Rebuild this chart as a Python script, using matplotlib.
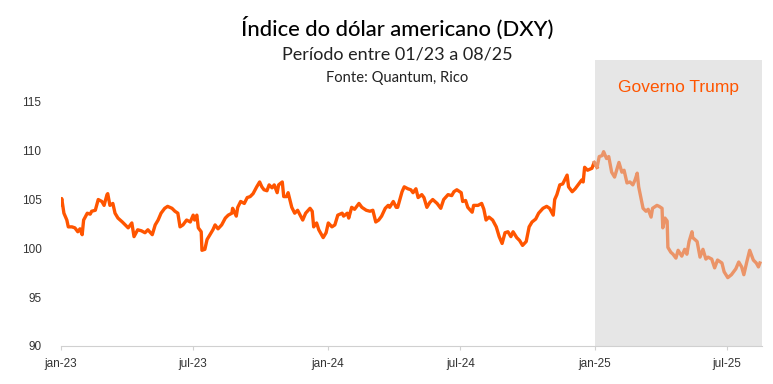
import numpy as np
import pandas as pd
import matplotlib
matplotlib.use("Agg")
import matplotlib.pyplot as plt

# DXY readings, days counted from 2023-01-01
days = [0, 1, 4, 8, 10, 15, 19, 23, 26, 29, 31, 36, 40, 42, 47, 51, 56, 59, 63, 64,
        67, 71, 74, 78, 84, 88, 92, 97, 100, 105, 110, 115, 119, 125, 129, 133, 137, 142, 146, 152,
        156, 160, 163, 167, 172, 177, 181, 183, 186, 188, 192, 193, 197, 200, 204, 208, 211, 215, 220, 225,
        229, 234, 235, 240, 242, 246, 251, 255, 259, 263, 268, 272, 275, 278, 282, 285, 289, 292, 296, 298,
        303, 305, 309, 311, 316, 320, 324, 331, 335, 341, 344, 346, 350, 353, 359, 363, 366, 371, 375, 379,
        385, 387, 392, 394, 398, 402, 408, 412, 418, 423, 427, 431, 435, 439, 444, 448, 450, 455, 459, 461,
        467, 470, 475, 479, 482, 486, 489, 494, 497, 501, 505, 509, 515, 520, 524, 530, 535, 538, 542, 548,
        550, 554, 557, 563, 565, 571, 576, 579, 582, 586, 591, 596, 600, 604, 608, 612, 616, 619, 624, 628,
        632, 637, 641, 645, 650, 654, 660, 665, 669, 674, 676, 679, 683, 687, 693, 695, 700, 704, 706, 713,
        715, 717, 721, 727, 730, 734, 737, 741, 743, 747, 750, 754, 758, 764, 768, 771, 775, 779, 783, 786,
        789, 791, 797, 801, 804, 808, 810, 816, 819, 823, 824, 827, 830, 831, 835, 838, 842, 845, 850, 854,
        857, 860, 864, 865, 871, 875, 879, 883, 886, 891, 895, 899, 905, 908, 913, 918, 924, 928, 932, 935,
        939, 943, 948, 952, 955, 957]
dxy = [104.5, 105.1, 103.6, 102.9, 102.2, 102.2, 102.1, 101.7, 102.0, 101.4, 102.9, 103.6, 103.5, 103.8, 103.9, 105.0, 104.8, 104.4, 105.5, 105.6,
       104.4, 104.6, 103.6, 103.1, 102.7, 102.4, 102.1, 102.6, 101.2, 101.9, 101.8, 101.6, 101.9, 101.4, 102.4, 102.9, 103.6, 104.1, 104.3, 104.1,
       103.8, 103.6, 102.2, 102.4, 102.9, 102.7, 103.4, 102.9, 103.4, 102.1, 101.7, 99.8, 99.9, 100.9, 101.4, 101.9, 102.4, 102.0, 102.4, 103.1,
       103.4, 103.6, 104.1, 103.3, 104.2, 104.8, 104.6, 105.2, 105.3, 105.6, 106.3, 106.8, 106.3, 106.0, 105.9, 106.5, 106.2, 106.5, 105.7, 106.5,
       106.8, 105.3, 105.3, 105.7, 104.2, 103.6, 103.9, 102.9, 103.6, 104.1, 103.8, 102.2, 102.6, 101.9, 101.1, 101.6, 102.6, 102.2, 102.4, 103.4,
       103.6, 103.3, 103.6, 103.1, 104.2, 104.0, 104.6, 104.2, 103.9, 103.8, 103.9, 102.7, 102.9, 103.3, 104.1, 104.4, 104.2, 104.8, 104.2, 104.2,
       105.8, 106.3, 106.1, 106.0, 105.7, 106.1, 105.2, 105.5, 105.2, 104.2, 104.7, 105.0, 104.6, 104.1, 105.0, 105.5, 105.4, 105.8, 106.0, 105.7,
       104.8, 104.9, 104.2, 103.7, 104.4, 104.4, 104.6, 104.0, 102.9, 103.2, 102.9, 102.2, 101.2, 100.5, 101.6, 101.7, 101.2, 101.7, 101.1, 100.8,
       100.3, 100.7, 102.2, 102.7, 103.0, 103.6, 104.1, 104.3, 104.1, 103.4, 105.0, 105.5, 106.5, 106.6, 107.5, 106.3, 105.8, 106.1, 106.3, 107.0,
       106.8, 108.3, 108.0, 108.2, 108.8, 108.3, 109.4, 109.5, 109.9, 109.2, 109.4, 107.8, 107.3, 108.8, 107.8, 108.0, 106.7, 106.8, 106.5, 107.0,
       107.7, 106.3, 104.1, 103.8, 104.0, 103.2, 104.1, 104.4, 104.3, 104.1, 102.1, 103.1, 102.8, 100.1, 99.6, 99.4, 99.0, 99.8, 99.2, 99.9,
       99.4, 100.7, 101.7, 101.1, 100.7, 99.1, 99.9, 98.9, 99.1, 98.9, 98.0, 98.8, 98.5, 97.6, 97.0, 97.3, 97.9, 98.6, 98.1, 97.3,
       98.6, 99.8, 98.8, 98.5, 98.1, 98.5]

start = pd.Timestamp("2023-01-01")
trump_start = pd.Timestamp("2025-01-01")
end = pd.Timestamp("2025-08-18")
dates = start + pd.to_timedelta(days, unit="D")
dxy = np.array(dxy)

tick_dates = pd.to_datetime(["2023-01-01", "2023-07-01", "2024-01-01", "2024-07-01", "2025-01-01", "2025-07-01"])
tick_labels = ["jan-23", "jul-23", "jan-24", "jul-24", "jan-25", "jul-25"]
y_ticks = [90, 95, 100, 105, 110, 115]

orange = "#FF5500"
light = "#EB9468"

fig = plt.figure(figsize=(7.73, 3.84), dpi=100)
ax = fig.add_axes([0.0789, 0.099, 0.907, 0.745])

ax.axvspan(trump_start, end, color="#E6E6E6", lw=0, zorder=0)

i = np.argmax(dates >= trump_start)
ax.plot(dates[:i + 1], dxy[:i + 1], color=orange, lw=2.4, zorder=2)
ax.plot(dates[i - 1:], dxy[i - 1:], color=light, lw=2.4, zorder=3)

ax.set_xlim(start, end)
ax.set_ylim(90, 119.3)
ax.set_yticks(y_ticks)
ax.set_xticks(tick_dates)
ax.set_xticklabels(tick_labels)

for s in ["top", "right", "left"]:
    ax.spines[s].set_visible(False)
ax.spines["bottom"].set_color("#D0D0D0")
ax.tick_params(axis="y", length=0, pad=14, labelsize=8.5, labelcolor="#333333")
ax.tick_params(axis="x", length=3, color="#D0D0D0", pad=6, labelsize=8.5, labelcolor="#333333")
for lab in ax.get_xticklabels() + ax.get_yticklabels():
    lab.set_family("Liberation Sans")

ax.text(pd.Timestamp("2025-04-25"), 116.5, "Governo Trump", color=orange, fontsize=12.5,
        ha="center", va="center", family="Liberation Sans")

fig.text(0.514, 0.927, "Índice do dólar americano (DXY)", ha="center", va="center",
         fontsize=15.8, family="Lato", fontweight="medium")
fig.text(0.514, 0.857, "Período entre 01/23 a 08/25", ha="center", va="center",
         fontsize=13, family="Lato", color="#222222")
fig.text(0.514, 0.797, "Fonte: Quantum, Rico", ha="center", va="center",
         fontsize=10.6, family="Lato", color="#222222")

fig.savefig("out.png", dpi=100)
